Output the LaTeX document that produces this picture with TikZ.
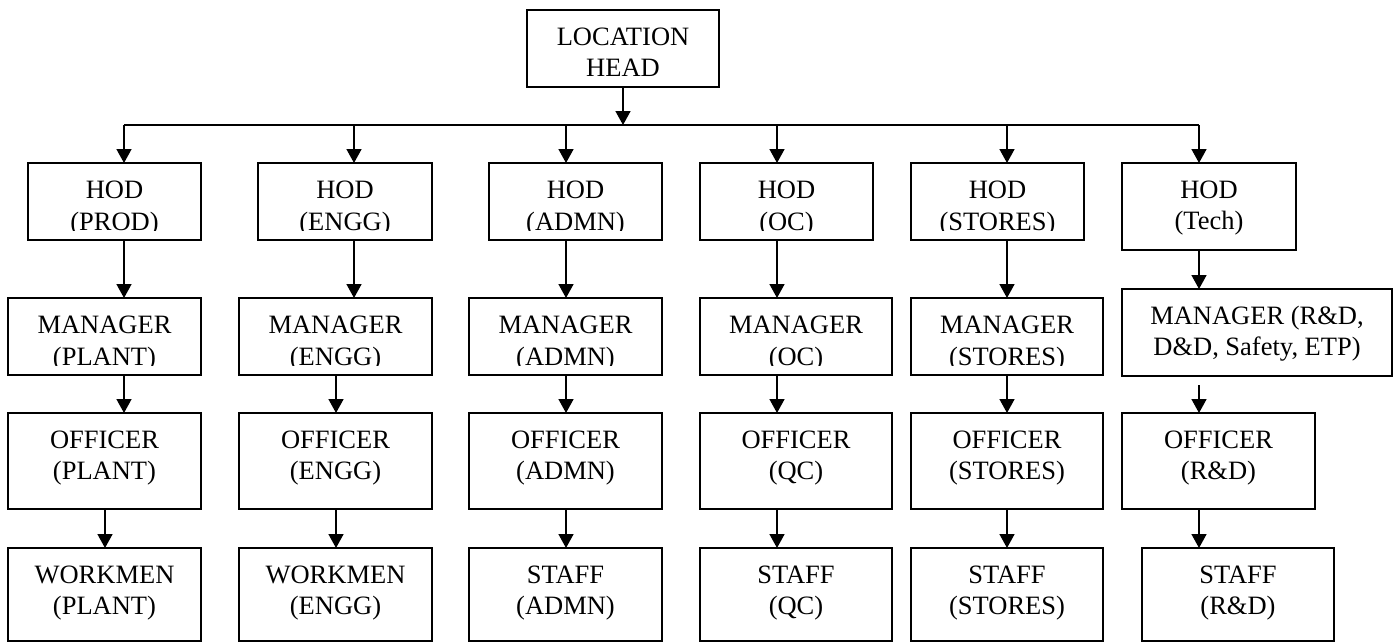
\documentclass[tikz,border=0pt]{standalone}
\usepackage{fontspec}
\setmainfont{Liberation Serif}
\usetikzlibrary{arrows.meta,calc}
\tikzset{
  box/.style={draw=black, line width=1.6pt, rectangle, inner sep=0pt, outer sep=0pt, fill=white},
  txt/.style={anchor=base, inner sep=0pt, font=\fontsize{26.5}{30.5}\selectfont},
  txtc/.style={anchor=base, inner sep=0pt, font=\fontsize{26.5}{31.5}\selectfont},
  conn/.style={line width=1.6pt},
  arr/.style={line width=1.6pt, -{Triangle[length=14pt,width=15pt]}}
}
% name x1 y1 x2 y2 text
\newcommand\orgbox[6]{%
  \node[box, anchor=north west, minimum width={#4-#2}, minimum height={#5-#3}] (#1) at (#2,#3) {};
  \node[txt] (#1t) at ([yshift=-35.5pt]#1.north) {\begin{tabular}[t]{@{}c@{}}#6\end{tabular}};}
% same, second line clipped near the bottom of the box
\newcommand\orgboxc[6]{%
  \node[box, anchor=north west, minimum width={#4-#2}, minimum height={#5-#3}] (#1) at (#2,#3) {};
  \begin{scope}
    \clip (#2,#3) rectangle (#4,{#3+67});
    \node[txtc] (#1t) at ([yshift=-35.5pt]#1.north) {\begin{tabular}[t]{@{}c@{}}#6\end{tabular}};
  \end{scope}}
\begin{document}
\begin{tikzpicture}[x=1pt,y=-1pt]
\useasboundingbox (0,0) rectangle (1396,643);

\orgbox{loc}{527}{10}{719}{87}{LOCATION\\HEAD}

% column x positions for connectors
\coordinate (c1a) at (124,0);
\coordinate (c1b) at (105,0);
\coordinate (c2a) at (354,0);
\coordinate (c2b) at (336,0);
\coordinate (c3) at (566,0);
\coordinate (c4) at (777,0);
\coordinate (c5) at (1007,0);
\coordinate (c6) at (1199,0);
\coordinate (bus) at (623,125);

% HOD row
\orgboxc{h1}{28}{163}{201}{240}{HOD\\(PROD)}
\orgboxc{h2}{258}{163}{432}{240}{HOD\\(ENGG)}
\orgboxc{h3}{489}{163}{662}{240}{HOD\\(ADMN)}
\orgboxc{h4}{700}{163}{873}{240}{HOD\\(OC)}
\orgboxc{h5}{911}{163}{1084}{240}{HOD\\(STORES)}
\orgbox{h6}{1122}{163}{1296}{250}{HOD\\(Tech)}

% Manager row
\orgboxc{m1}{8}{298}{201}{375}{MANAGER\\(PLANT)}
\orgboxc{m2}{239}{298}{432}{375}{MANAGER\\(ENGG)}
\orgboxc{m3}{469}{298}{662}{375}{MANAGER\\(ADMN)}
\orgboxc{m4}{700}{298}{892}{375}{MANAGER\\(OC)}
\orgboxc{m5}{911}{298}{1103}{375}{MANAGER\\(STORES)}
\orgbox{m6}{1122}{289}{1392}{376}{MANAGER (R\&D,\\D\&D, Safety, ETP)}

% Officer row
\orgbox{o1}{8}{413}{201}{509}{OFFICER\\(PLANT)}
\orgbox{o2}{239}{413}{432}{509}{OFFICER\\(ENGG)}
\orgbox{o3}{469}{413}{662}{509}{OFFICER\\(ADMN)}
\orgbox{o4}{700}{413}{892}{509}{OFFICER\\(QC)}
\orgbox{o5}{911}{413}{1103}{509}{OFFICER\\(STORES)}
\orgbox{o6}{1122}{413}{1315}{509}{OFFICER\\(R\&D)}

% Bottom row
\orgbox{w1}{8}{548}{201}{641}{WORKMEN\\(PLANT)}
\orgbox{w2}{239}{548}{432}{641}{WORKMEN\\(ENGG)}
\orgbox{w3}{469}{548}{662}{641}{STAFF\\(ADMN)}
\orgbox{w4}{700}{548}{892}{641}{STAFF\\(QC)}
\orgbox{w5}{911}{548}{1103}{641}{STAFF\\(STORES)}
\orgbox{w6}{1142}{548}{1334}{641}{STAFF\\(R\&D)}

% bus
\draw[arr] (loc.south) -- (loc.south |- bus);
\draw[conn] (bus -| c1a) -- (bus -| c6);
\draw[arr] (bus -| c1a) -- (h1.north -| c1a);
\draw[arr] (bus -| c2a) -- (h2.north -| c2a);
\draw[arr] (bus -| c3) -- (h3.north -| c3);
\draw[arr] (bus -| c4) -- (h4.north -| c4);
\draw[arr] (bus -| c5) -- (h5.north -| c5);
\draw[arr] (bus -| c6) -- (h6.north -| c6);

% column 1
\draw[arr] (h1.south -| c1a) -- (m1.north -| c1a);
\draw[arr] (m1.south -| c1a) -- (o1.north -| c1a);
\draw[arr] (o1.south -| c1b) -- (w1.north -| c1b);
% column 2
\draw[arr] (h2.south -| c2a) -- (m2.north -| c2a);
\draw[arr] (m2.south -| c2b) -- (o2.north -| c2b);
\draw[arr] (o2.south -| c2b) -- (w2.north -| c2b);
% column 3
\draw[arr] (h3.south -| c3) -- (m3.north -| c3);
\draw[arr] (m3.south -| c3) -- (o3.north -| c3);
\draw[arr] (o3.south -| c3) -- (w3.north -| c3);
% column 4
\draw[arr] (h4.south -| c4) -- (m4.north -| c4);
\draw[arr] (m4.south -| c4) -- (o4.north -| c4);
\draw[arr] (o4.south -| c4) -- (w4.north -| c4);
% column 5
\draw[arr] (h5.south -| c5) -- (m5.north -| c5);
\draw[arr] (m5.south -| c5) -- (o5.north -| c5);
\draw[arr] (o5.south -| c5) -- (w5.north -| c5);
% column 6
\draw[arr] (h6.south -| c6) -- (m6.north -| c6);
\draw[arr] ([yshift=-9pt]m6.south -| c6) -- (o6.north -| c6);
\draw[arr] (o6.south -| c6) -- (w6.north -| c6);
\end{tikzpicture}
\end{document}
